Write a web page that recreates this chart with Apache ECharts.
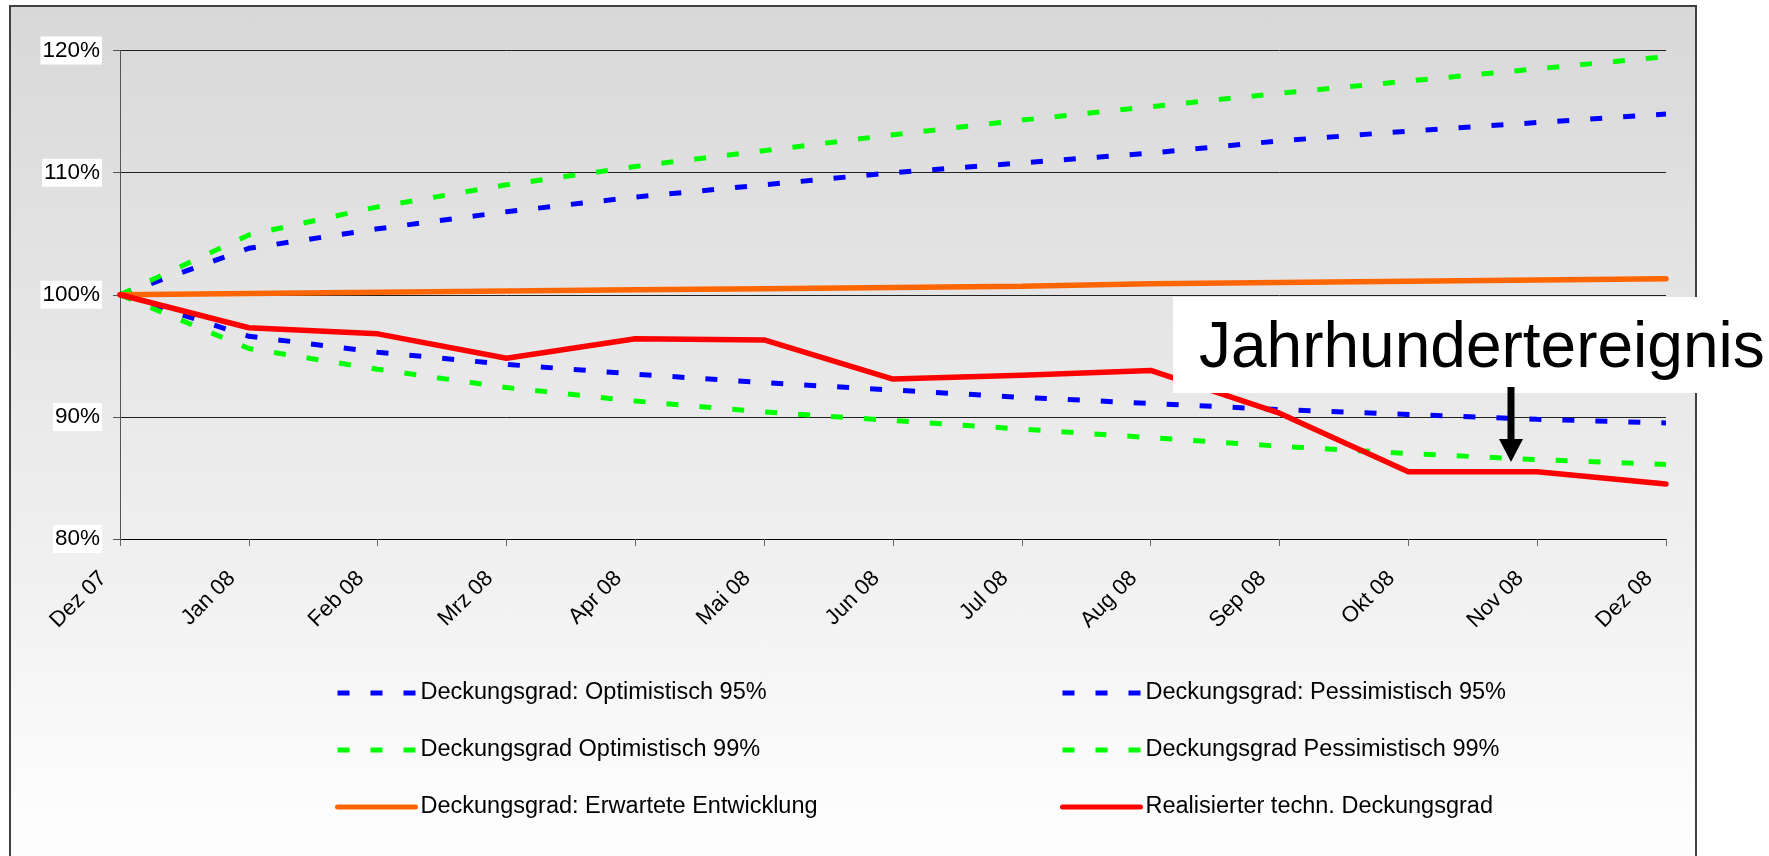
<!DOCTYPE html>
<html>
<head>
<meta charset="utf-8">
<script src="https://cdn.jsdelivr.net/npm/echarts@6/dist/echarts.min.js"></script>
<style>
html, body { margin: 0; padding: 0; background: #fff; overflow: hidden; }
.frame {
    position: absolute;
    left: 9px;
    top: 5px;
    width: 1688px;
    height: 900px;
    box-sizing: border-box;
    border: 2px solid #404040;
    background: linear-gradient(#d8d8d8 0%, #f0f0f0 62%, #fcfcfc 88%, #ffffff 100%);
}
#chart { position: absolute; left: 0; top: 0; width: 1769px; height: 856px; }
</style>
</head>
<body>
<div class="frame"></div>
<div id="chart"></div>
<script>
// Monate
const months = ['Dez 07', 'Jan 08', 'Feb 08', 'Mrz 08', 'Apr 08', 'Mai 08', 'Jun 08',
    'Jul 08', 'Aug 08', 'Sep 08', 'Okt 08', 'Nov 08', 'Dez 08'];

// Deckungsgrad in %
const optimistic95 = [100, 103.8, 105.4, 106.8, 108.0, 109.0, 110.0, 110.8, 111.6, 112.6, 113.4, 114.1, 114.8];
const pessimistic95 = [100, 96.6, 95.3, 94.3, 93.5, 92.8, 92.2, 91.6, 91.1, 90.6, 90.2, 89.8, 89.5];
const optimistic99 = [100, 104.9, 107.2, 109.0, 110.5, 111.8, 113.1, 114.3, 115.4, 116.5, 117.5, 118.5, 119.5];
const pessimistic99 = [100, 95.6, 93.9, 92.4, 91.3, 90.4, 89.7, 89.0, 88.3, 87.6, 87.0, 86.5, 86.1];
const expected = [100, 100.1, 100.2, 100.3, 100.4, 100.5, 100.6, 100.7, 100.9, 101.0, 101.1, 101.2, 101.3];
const realized = [100, 97.3, 96.8, 94.8, 96.4, 96.3, 93.1, 93.4, 93.8, 90.3, 85.5, 85.5, 84.5];

const yTicks = [80, 90, 100, 110, 120];

const font = '"Liberation Sans", Arial, sans-serif';
const dash = [12, 21];

function dashedSeries(name, data, color) {
    return {
        name: name,
        type: 'line',
        data: data,
        symbol: 'none',
        lineStyle: {color: color, width: 5, type: dash},
        itemStyle: {color: color}
    };
}

function legendColumn(names, left) {
    return {
        data: names,
        orient: 'vertical', left: left, top: 681, padding: 0,
        itemWidth: 78, itemHeight: 14, itemGap: 33,
        lineStyle: {width: 5},
        itemStyle: {opacity: 0},
        textStyle: {fontSize: 23.5, color: '#000', fontFamily: font}
    };
}

let myChart = echarts.init(document.getElementById('chart'));
let option = {
    backgroundColor: 'transparent',
    animation: false,
    textStyle: {fontFamily: font},
    grid: {left: 120, right: 103, top: 50.5, bottom: 317},
    legend: [
        legendColumn(['Deckungsgrad: Optimistisch 95%', 'Deckungsgrad Optimistisch 99%', 'Deckungsgrad: Erwartete Entwicklung'], 335),
        legendColumn(['Deckungsgrad: Pessimistisch 95%', 'Deckungsgrad Pessimistisch 99%', 'Realisierter techn. Deckungsgrad'], 1060)
    ],
    xAxis: {
        type: 'category',
        data: months,
        boundaryGap: false,
        axisLine: {lineStyle: {color: '#000', width: 1}},
        axisTick: {show: true, length: 7, interval: 0, lineStyle: {color: '#666'}},
        axisLabel: {
            interval: 0,
            rotate: 45,
            margin: 19,
            padding: [0, 24, 0, 0],
            fontSize: 22,
            color: '#000',
            fontFamily: font
        }
    },
    yAxis: {
        type: 'value',
        min: yTicks[0],
        max: yTicks[yTicks.length - 1],
        interval: 10,
        axisLine: {show: true, lineStyle: {color: '#555', width: 1}},
        axisTick: {show: true, length: 7, lineStyle: {color: '#555'}},
        splitLine: {show: true, lineStyle: {color: '#222', width: 1}},
        axisLabel: {
            formatter: '{value}%',
            margin: 18,
            fontSize: 22.5,
            color: '#000',
            fontFamily: font,
            backgroundColor: '#fff',
            padding: [3, 2, 2, 2]
        }
    },
    series: [
        dashedSeries('Deckungsgrad: Optimistisch 95%', optimistic95, '#0000ff'),
        dashedSeries('Deckungsgrad: Pessimistisch 95%', pessimistic95, '#0000ff'),
        dashedSeries('Deckungsgrad Optimistisch 99%', optimistic99, '#00ff00'),
        dashedSeries('Deckungsgrad Pessimistisch 99%', pessimistic99, '#00ff00'),
        {
            name: 'Deckungsgrad: Erwartete Entwicklung',
            type: 'line',
            data: expected,
            symbol: 'none',
            lineStyle: {color: '#ff6600', width: 5.5, cap: 'round'},
            itemStyle: {color: '#ff6600'}
        },
        {
            name: 'Realisierter techn. Deckungsgrad',
            type: 'line',
            data: realized,
            symbol: 'none',
            lineStyle: {color: '#ff0000', width: 5.5, cap: 'round', join: 'round'},
            itemStyle: {color: '#ff0000'}
        }
    ],
    graphic: [
        {type: 'rect', z: 100, silent: true, shape: {x: 1173, y: 297, width: 596, height: 96}, style: {fill: '#fff'}},
        {type: 'text', z: 101, silent: true, x: 1199, y: 349,
            style: {text: 'Jahrhundertereignis', fontSize: 64, fontFamily: font, fill: '#000', verticalAlign: 'middle'}},
        {type: 'line', z: 101, silent: true, shape: {x1: 1511, y1: 387, x2: 1511, y2: 442}, style: {stroke: '#000', lineWidth: 7}},
        {type: 'polygon', z: 101, silent: true, shape: {points: [[1499, 439], [1523, 439], [1511, 462]]}, style: {fill: '#000'}}
    ]
};
myChart.setOption(option);
window.addEventListener('resize', function () {
    myChart.resize();
});
</script>
</body>
</html>
